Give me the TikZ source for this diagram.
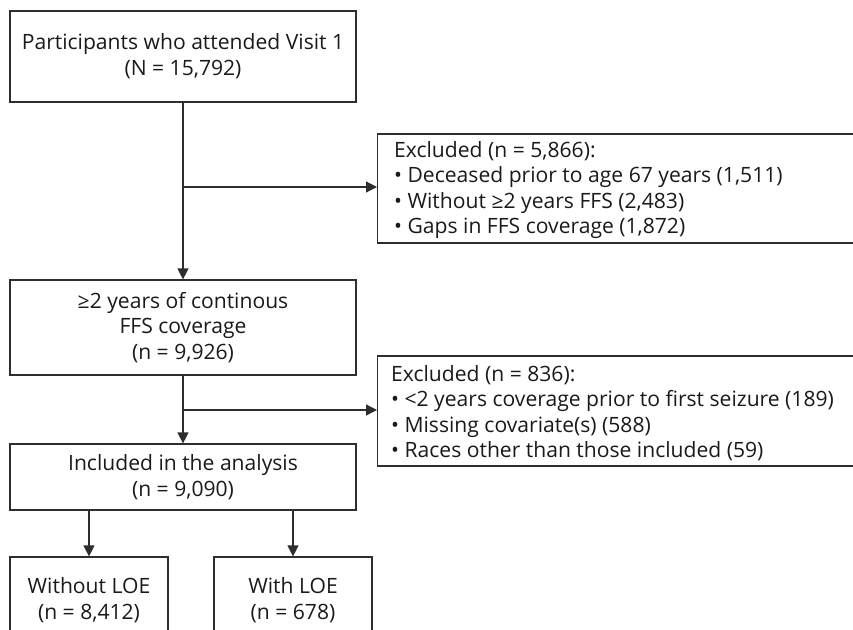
\documentclass[tikz,border=0pt]{standalone}
\usepackage{fontspec}
\setmainfont{Open Sans}
\usetikzlibrary{arrows.meta}
\definecolor{ln}{HTML}{2E2E2E}
\definecolor{tx}{HTML}{1A1A1A}
\begin{document}
\begin{tikzpicture}[x=1pt,y=-1pt,
  box/.style={draw=ln,line width=1.2pt,rectangle,inner sep=0pt,text=tx,align=center,
    font=\fontsize{21.1}{25.8}\selectfont},
  exbox/.style={draw=ln,line width=1.2pt,rectangle,inner sep=0pt,text=tx,
    font=\fontsize{21.1}{25.8}\selectfont},
  extext/.style={anchor=west,align=left,inner sep=0pt,text=tx,font=\fontsize{21.1}{25.5}\selectfont},
  conn/.style={draw=ln,line width=1.2pt},
  arr/.style={conn,-{Triangle[width=11pt,length=11pt]}}]
\useasboundingbox (0,0) rectangle (853,629);
\clip (0,0) rectangle (853,629);
\fill[white] (0,0) rectangle (853,629);
\node[box,minimum width=346pt,minimum height=91pt] (b1) at (183,56.5)
  {Participants who attended Visit 1\\(N = 15,792)};
\node[box,minimum width=346pt,minimum height=95pt] (b2) at (183,327.5)
  {≥2 years of continous\\FFS coverage\\(n = 9,926)};
\node[box,minimum width=346pt,minimum height=66pt] (b3) at (183,477)
  {Included in the analysis\\(n = 9,090)};
\node[box,minimum width=158pt,minimum height=86pt] (b4) at (89,600)
  {Without LOE\\(n = 8,412)};
\node[box,minimum width=158pt,minimum height=86pt] (b5) at (293,600)
  {With LOE\\(n = 678)};
\node[exbox,minimum width=500pt,minimum height=109pt,anchor=west] (e1) at (377,188.5) {};
\node[extext] (t1) at (394,190)
  {Excluded (n = 5,866):\\• Deceased prior to age 67 years (1,511)\\• Without ≥2 years FFS (2,483)\\• Gaps in FFS coverage (1,872)};
\node[exbox,minimum width=500pt,minimum height=110pt,anchor=west] (e2) at (377,411) {};
\node[extext] (t2) at (391,413)
  {Excluded (n = 836):\\• <2 years coverage prior to first seizure (189)\\• Missing covariate(s) (588)\\• Races other than those included (59)};
\coordinate (k1) at (183,187);
\coordinate (k2) at (183,410);
\draw[arr] (b1.south) -- (b2.north);
\draw[arr] (k1) -- (k1 -| e1.west);
\draw[arr] (b2.south) -- (b3.north);
\draw[arr] (k2) -- (k2 -| e2.west);
\draw[arr] (b3.south -| b4.north) -- (b4.north);
\draw[arr] (b3.south -| b5.north) -- (b5.north);
\end{tikzpicture}
\end{document}
